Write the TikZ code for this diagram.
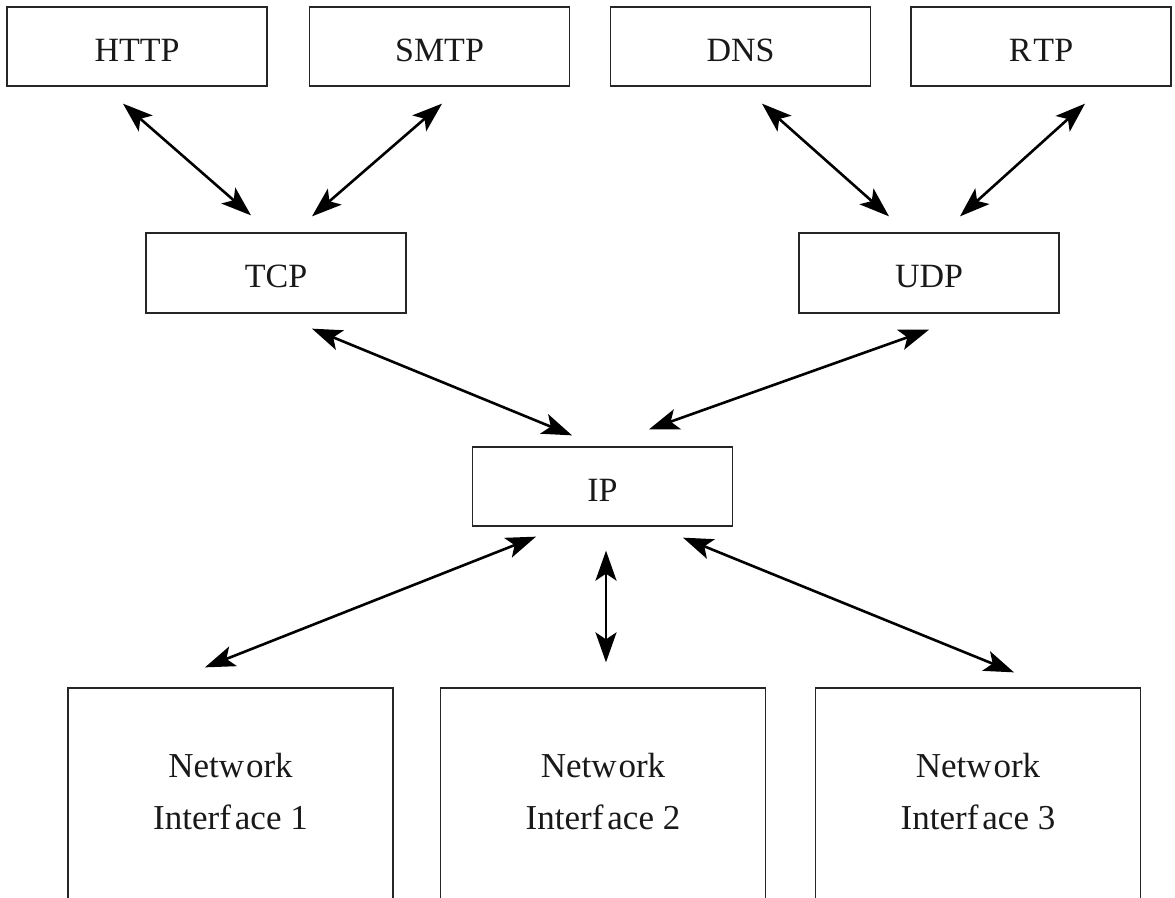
\documentclass[tikz,border=0pt]{standalone}
\usepackage{fontspec}
\setmainfont{Liberation Serif}
\usetikzlibrary{arrows.meta,calc}
\begin{document}
\begin{tikzpicture}[x=1pt,y=-1pt,
  box/.style={draw=black!85, line width=1.3pt, minimum width=260pt, minimum height=79pt,
    inner sep=0pt, font=\fontsize{34}{40}\selectfont, text=black!90, text height=29pt, text depth=0pt},
  nibox/.style={draw=black!85, line width=1.3pt, minimum width=325pt, minimum height=400pt, inner sep=0pt},
  nitext/.style={font=\fontsize{35}{52}\selectfont, text=black!90, align=center, inner sep=0pt},
  bi/.style={{Stealth[length=30pt,width=21pt,inset=7pt]}-{Stealth[length=30pt,width=21pt,inset=7pt]}, line width=2.6pt, black}]
\useasboundingbox (0,0) rectangle (1175,897);
% top row
\node[box] (http) at (137,46.5) {HTTP};
\node[box] (smtp) at (439.5,46.5) {SMTP};
\node[box] (dns) at (740.5,46.5) {DNS};
\node[box] (rtp) at (1041,46.5) {R\kern2pt TP};
% transport
\node[box, minimum height=80pt] (tcp) at (276,273) {TCP};
\node[box, minimum height=80pt] (udp) at (929,273) {UDP};
% network
\node[box] (ip) at (602.5,486.5) {IP};
% interfaces
\node[nibox] (ni1) at (230.5,888) {};
\node[nibox] (ni2) at (603,888) {};
\node[nibox] (ni3) at (978,888) {};
\node[nitext] (t1) at ($(ni1.north)+(0,104.5)$) {Netw\kern2pt ork\\Interf\kern4pt ace 1};
\node[nitext] (t2) at ($(ni2.north)+(0,104.5)$) {Netw\kern2pt ork\\Interf\kern4pt ace 2};
\node[nitext] (t3) at ($(ni3.north)+(0,104.5)$) {Netw\kern2pt ork\\Interf\kern4pt ace 3};
% connectors
\draw[bi] ($(http.south)+(-14,17)$) -- ($(tcp.north)+(-25,-17)$);
\draw[bi] ($(smtp.south)+(2.5,17)$) -- ($(tcp.north)+(36,-16)$);
\draw[bi] ($(dns.south)+(21.5,17)$) -- ($(udp.north)+(-40,-16)$);
\draw[bi] ($(rtp.south)+(44,17)$) -- ($(udp.north)+(31,-16)$);
\draw[bi] ($(tcp.south)+(36,15)$) -- ($(ip.north)+(-30.5,-11)$);
\draw[bi] ($(udp.south)+(0,16)$) -- ($(ip.north)+(46.5,-17)$);
\draw[bi] ($(ip.south)+(-66.5,10)$) -- ($(ni1.north)+(-25.5,-20)$);
\draw[bi] ($(ip.south)+(3.5,24)$) -- ($(ni2.north)+(3,-25)$);
\draw[bi] ($(ip.south)+(80.5,11)$) -- ($(ni3.north)+(36,-15)$);
\end{tikzpicture}
\end{document}
